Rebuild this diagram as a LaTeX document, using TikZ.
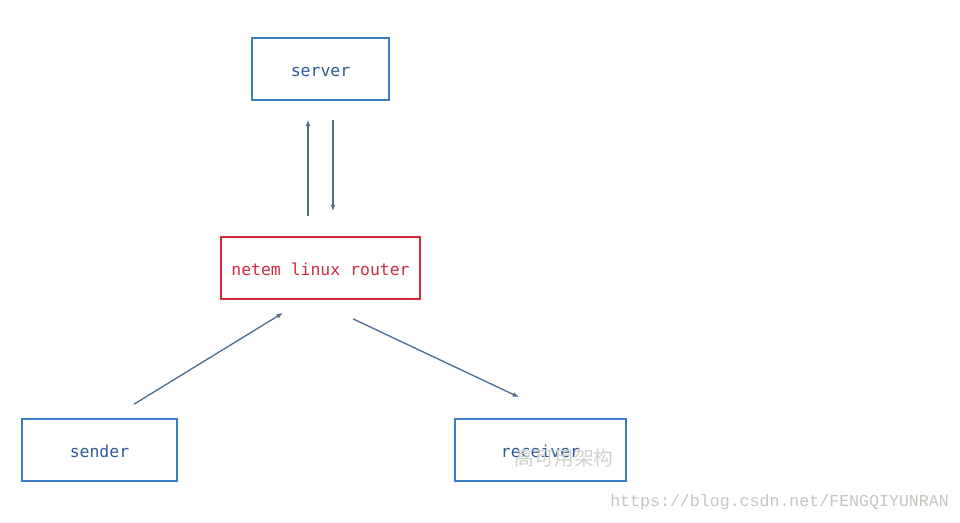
\documentclass[tikz,border=0pt]{standalone}
\usepackage{fontspec}
\setmonofont{DejaVu Sans Mono}
\newfontfamily\cjk{Noto Sans CJK SC}
\newfontfamily\wmfont{Liberation Mono}
\usepackage{tikz}
\usetikzlibrary{arrows.meta, positioning, calc}
\definecolor{boxblue}{HTML}{3B7DC4}
\definecolor{textblue}{HTML}{2D5A97}
\definecolor{routerred}{HTML}{D12A3E}
\definecolor{linkgray}{HTML}{4F6E8C}
\definecolor{markgray}{HTML}{C4C4BE}

\begin{document}
\begin{tikzpicture}[
    x=0.025cm, y=-0.025cm,
    hostbox/.style={rectangle, draw=boxblue, line width=1.2pt, minimum width=3.425cm, minimum height=1.55cm, text height=10.4pt, text depth=0pt, font=\ttfamily\fontsize{11.7}{14}\selectfont, text=textblue},
    routerbox/.style={hostbox, draw=routerred, text=routerred, minimum width=4.975cm},
    arrow/.style={-{Latex[length=4.5pt,width=3.5pt]}, line width=0.95pt, draw=linkgray}
]
\useasboundingbox (0,0) rectangle (960,522);

\node[hostbox] (server) at (320.5,69) {server};
\node[routerbox] (router) at (320.5,268) {netem linux router};
\node[hostbox, minimum width=3.875cm] (sender) at (99.5,450) {sender};
\node[hostbox, minimum width=4.275cm] (receiver) at (540.5,450) {receiver};

\draw[arrow] ($(router.north)+(-12.5,-20)$) -- ($(server.south)+(-12.5,19)$);
\draw[arrow] ($(server.south)+(12.5,19)$) -- ($(router.north)+(12.5,-25)$);
\draw[arrow] ($(sender.north)+(34.5,-14)$) -- ($(router.south)+(-37.5,13)$);
\draw[arrow] ($(router.south)+(32.5,19)$) -- ($(receiver.north)+(-21.5,-21)$);

% watermarks
\node[text=markgray!80, font=\cjk\fontsize{14}{16}\selectfont, anchor=west] (wmcn) at (510,458) {高可用架构};
\node[text=markgray, font=\wmfont\fontsize{11.8}{14}\selectfont, anchor=west, inner sep=0pt] (wmurl) at (610,502) {https://blog.csdn.net/FENGQIYUNRAN};

\end{tikzpicture}
\end{document}
